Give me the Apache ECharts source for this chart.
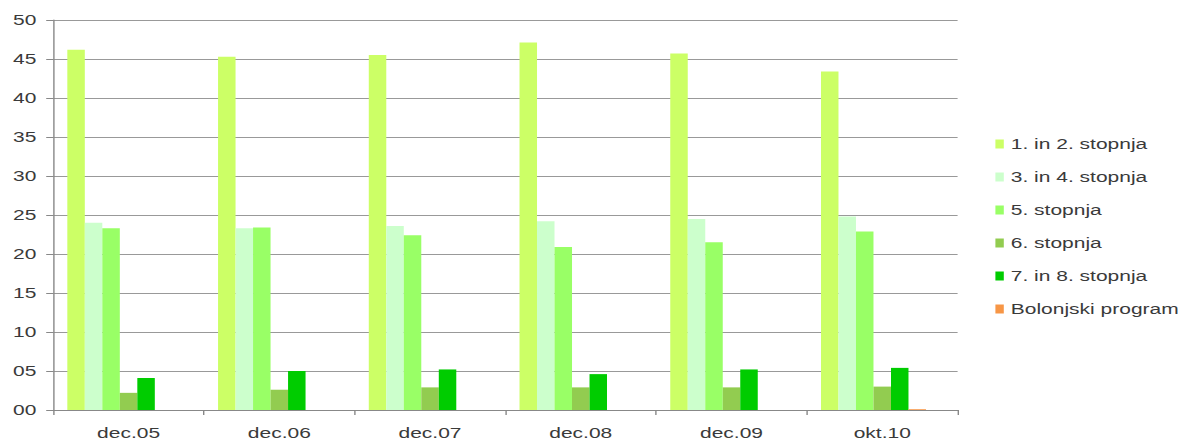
<!DOCTYPE html>
<html>
<head>
<meta charset="utf-8">
<script src="https://cdn.jsdelivr.net/npm/echarts@6/dist/echarts.min.js"></script>
<style>
  html, body { margin: 0; padding: 0; background: #fff; overflow: hidden; }
  /* the original picture is stretched sideways, so the chart is drawn narrower and widened */
  #main { width: 848px; height: 441px; transform: scaleX(1.4); transform-origin: 0 0; }
</style>
</head>
<body>
<div id="main"></div>
<script>
var categories = ['dec.05', 'dec.06', 'dec.07', 'dec.08', 'dec.09', 'okt.10']
var seriesNames = ['1. in 2. stopnja', '3. in 4. stopnja', '5. stopnja', '6. stopnja', '7. in 8. stopnja', 'Bolonjski program']
var stopnja12 = [46.2, 45.3, 45.5, 47.1, 45.7, 43.4]
var stopnja34 = [24.0, 23.3, 23.6, 24.2, 24.5, 24.8]
var stopnja5 = [23.3, 23.4, 22.4, 20.9, 21.5, 22.9]
var stopnja6 = [2.2, 2.6, 2.9, 2.9, 2.9, 3.0]
var stopnja78 = [4.1, 5.0, 5.2, 4.6, 5.2, 5.4]
var bolonjski = [null, null, null, null, null, 0.1]
var colors = ['#ccff66', '#ccffcc', '#99ff66', '#92cc50', '#00cc00', '#f79646']

var myChart = echarts.init(document.getElementById('main'), null, { renderer: 'svg' })

var values = [stopnja12, stopnja34, stopnja5, stopnja6, stopnja78, bolonjski]
var series = values.map(function (d, i) {
    return {
        name: seriesNames[i],
        type: 'bar',
        data: d,
        barWidth: 12.5,
        barGap: 0,
        itemStyle: { color: colors[i] }
    }
})
// empty slot at the end of each group, as in the original chart
series.push({
    name: 'spacer',
    type: 'bar',
    data: categories.map(function () { return null }),
    barWidth: 12.5,
    barGap: 0,
    silent: true
})

var font = { fontFamily: 'Liberation Sans', fontSize: 15, color: '#3a3a3a' }

var option = {
    animation: false,
    grid: { left: 38, right: 164, top: 20, bottom: 31 },
    legend: {
        data: seriesNames,
        orient: 'vertical',
        left: 706,
        top: 130,
        itemWidth: 6,
        itemHeight: 9,
        itemGap: 15,
        icon: 'rect',
        textStyle: Object.assign({ lineHeight: 18 }, font)
    },
    xAxis: {
        type: 'category',
        data: categories,
        axisLine: { lineStyle: { color: '#888' } },
        axisTick: { show: true, length: 5, lineStyle: { color: '#888' } },
        axisLabel: Object.assign({ margin: 15 }, font)
    },
    yAxis: {
        type: 'value',
        min: 0,
        max: 50,
        interval: 5,
        axisLine: { show: true, lineStyle: { color: '#888' } },
        axisTick: { show: true, length: 5, lineStyle: { color: '#888' } },
        splitLine: { lineStyle: { color: '#999' } },
        axisLabel: Object.assign({
            margin: 12,
            formatter: function (v) { return v < 10 ? '0' + v : '' + v }
        }, font)
    },
    series: series
}

myChart.setOption(option)
</script>
</body>
</html>
